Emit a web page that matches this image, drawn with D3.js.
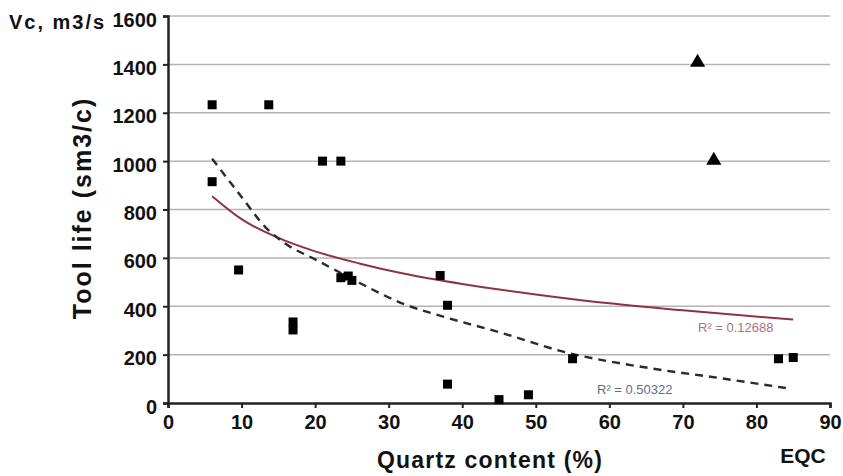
<!DOCTYPE html>
<html>
<head>
<meta charset="utf-8">
<script src="https://cdn.jsdelivr.net/npm/d3@7"></script>
<style>
  body { margin: 0; background: #fff; }
  svg text { font-family: "Liberation Sans", Arial, sans-serif; font-weight: bold; fill: #111; }
</style>
</head>
<body>
<svg id="chart"></svg>
<script>
// data
var squareX = [6, 13.7, 6, 9.6, 17, 17, 21, 23.5, 23.5, 24.5, 25, 37, 38, 38, 45, 49, 55, 83, 85];
var squareY = [1233, 1233, 915, 550, 335, 302, 1000, 1000, 518, 525, 507, 527, 404, 78, 14, 34, 183, 183, 188];

var triX = [72, 74.2];
var triY = [1408, 1003];

// log trendline (red)
var redX = [6, 10, 16, 20, 26, 32, 40, 50, 60, 70, 85];
var redY = [855, 760, 670, 627, 577, 535, 492, 449, 412, 383, 345];

// dashed trendline (black)
var dashX = [6, 10, 13.4, 16.3, 20, 26, 32, 38, 45, 54, 65.5, 75, 84];
var dashY = [1010, 852, 722, 652, 594, 497, 410, 352, 293, 210, 144, 103, 62];

var xTicks = [0, 10, 20, 30, 40, 50, 60, 70, 80, 90];
var yTicks = [0, 200, 400, 600, 800, 1000, 1200, 1400, 1600];

var width = 843;
var height = 476;

var svg = d3.select('#chart')
  .attr('width', width)
  .attr('height', height);

var x = d3.scaleLinear().domain([0, 90]).range([168, 830]);
var y = d3.scaleLinear().domain([0, 1600]).range([403, 16]);

// gridlines
svg.append('g')
  .selectAll('line')
  .data(yTicks.slice(1))
  .enter().append('line')
  .attr('x1', x(0))
  .attr('x2', x(90))
  .attr('y1', d => y(d))
  .attr('y2', d => y(d))
  .attr('stroke', '#b4b4b4')
  .attr('stroke-width', 1.5);

// axes
var xAxis = svg.append('g')
  .attr('transform', 'translate(0,' + y(0) + ')')
  .call(d3.axisBottom(x).tickValues(xTicks).tickFormat(d3.format('d')).tickSize(5).tickPadding(5));

var yAxis = svg.append('g')
  .attr('transform', 'translate(' + x(0) + ',0)')
  .call(d3.axisLeft(y).tickValues(yTicks).tickFormat(d3.format('d')).tickSize(5).tickPadding(6));

[xAxis, yAxis].forEach(function(g) {
  g.attr('font-size', null).attr('font-family', null);
  g.select('.domain').attr('stroke', '#222').attr('stroke-width', 2.5);
  g.selectAll('.tick line').attr('stroke', '#222').attr('stroke-width', 2);
  g.selectAll('.tick text')
    .style('font-size', '20px')
    .style('fill', '#111');
});
xAxis.selectAll('.tick text').attr('dy', '0.78em');
yAxis.selectAll('.tick text').attr('dy', '0.5em');

// trendlines
var line = d3.line()
  .x(d => x(d[0]))
  .y(d => y(d[1]))
  .curve(d3.curveMonotoneX);

svg.append('path')
  .datum(redX.map((v, i) => [v, redY[i]]))
  .attr('d', line)
  .attr('fill', 'none')
  .attr('stroke', '#8e3346')
  .attr('stroke-width', 2);

svg.append('path')
  .datum(dashX.map((v, i) => [v, dashY[i]]))
  .attr('d', line)
  .attr('fill', 'none')
  .attr('stroke', '#2a2a2a')
  .attr('stroke-width', 2.4)
  .attr('stroke-dasharray', '8,6');

// square points
var sq = 9;
svg.append('g')
  .selectAll('rect')
  .data(squareX.map((v, i) => [v, squareY[i]]))
  .enter().append('rect')
  .attr('x', d => x(d[0]) - sq / 2)
  .attr('y', d => y(d[1]) - sq / 2)
  .attr('width', sq)
  .attr('height', sq)
  .attr('fill', '#000');

// triangles
svg.append('g')
  .selectAll('path')
  .data(triX.map((v, i) => [v, triY[i]]))
  .enter().append('path')
  .attr('transform', d => 'translate(' + x(d[0]) + ',' + y(d[1]) + ')')
  .attr('d', d3.symbol().type(d3.symbolTriangle).size(100))
  .attr('fill', '#000');

// R² labels
svg.append('text')
  .attr('x', 698)
  .attr('y', 332)
  .style('font-size', '13px')
  .style('font-weight', 'normal')
  .style('fill', '#b0707c')
  .text('R² = 0.12688');

svg.append('text')
  .attr('x', 597)
  .attr('y', 394)
  .style('font-size', '13px')
  .style('font-weight', 'normal')
  .style('fill', '#5a7088')
  .text('R² = 0.50322');

// titles
svg.append('text')
  .attr('x', 9)
  .attr('y', 29)
  .style('font-size', '20px')
  .style('letter-spacing', '2px')
  .text('Vc, m3/s');

svg.append('text')
  .attr('transform', 'translate(91,208) rotate(-90)')
  .attr('text-anchor', 'middle')
  .style('font-size', '25px')
  .style('letter-spacing', '2px')
  .text('Tool life (sm3/c)');

svg.append('text')
  .attr('x', 490)
  .attr('y', 468)
  .attr('text-anchor', 'middle')
  .style('font-size', '23px')
  .style('letter-spacing', '1.2px')
  .text('Quartz content (%)');

svg.append('text')
  .attr('x', 803)
  .attr('y', 463)
  .attr('text-anchor', 'middle')
  .style('font-size', '21px')
  .text('EQC');
</script>
</body>
</html>
